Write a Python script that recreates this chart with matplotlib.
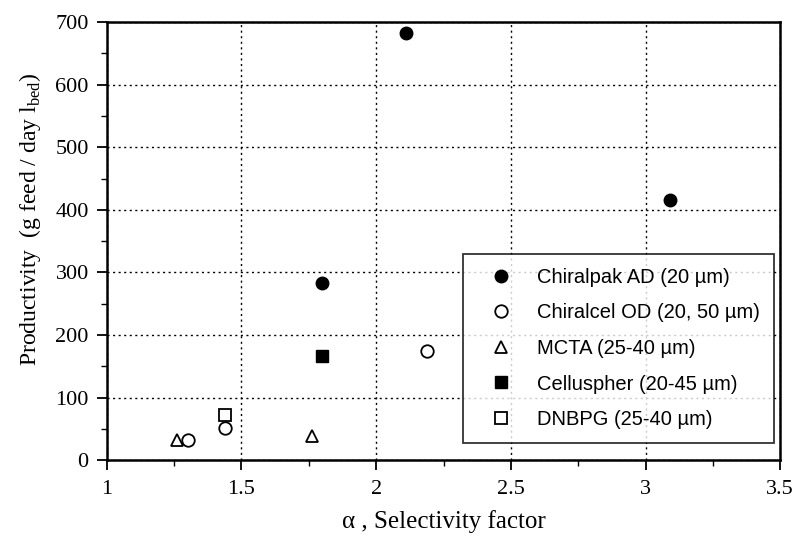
import matplotlib
matplotlib.use('Agg')
import matplotlib.pyplot as plt
from matplotlib.ticker import MultipleLocator

# data
ad_x = [2.11, 1.80, 3.09]
ad_y = [682, 283, 415]
od_x = [2.19, 1.30, 1.44]
od_y = [175, 33, 52]
mcta_x = [1.26, 1.76]
mcta_y = [32, 38]
cell_x = [1.80]
cell_y = [167]
dnbpg_x = [1.44]
dnbpg_y = [72]

labels = ['Chiralpak AD (20 µm)', 'Chiralcel OD (20, 50 µm)', 'MCTA (25-40 µm)',
          'Celluspher (20-45 µm)', 'DNBPG (25-40 µm)']

serif = 'Liberation Serif'
sans = 'Liberation Sans'

fig = plt.figure(figsize=(7.97, 5.37), dpi=100)
ax = fig.add_axes([0.134, 0.143, 0.845, 0.816])

ax.plot(ad_x, ad_y, 'o', ms=9, mfc='black', mec='black', label=labels[0])
ax.plot(od_x, od_y, 'o', ms=9, mfc='white', mec='black', mew=1.3, label=labels[1])
ax.plot(mcta_x, mcta_y, '^', ms=8, mfc='white', mec='black', mew=1.3, label=labels[2])
ax.plot(cell_x, cell_y, 's', ms=8, mfc='black', mec='black', label=labels[3])
ax.plot(dnbpg_x, dnbpg_y, 's', ms=8, mfc='white', mec='black', mew=1.3, label=labels[4])

ax.set_xlim(1, 3.5)
ax.set_ylim(0, 700)
ax.xaxis.set_major_locator(MultipleLocator(0.5))
ax.xaxis.set_minor_locator(MultipleLocator(0.25))
ax.yaxis.set_major_locator(MultipleLocator(100))
ax.yaxis.set_minor_locator(MultipleLocator(50))
ax.set_xticks([1, 1.5, 2, 2.5, 3, 3.5])
ax.set_xticklabels(['1', '1.5', '2', '2.5', '3', '3.5'])

ax.grid(True, which='major', linestyle=(0, (1.5, 2.5)), color='black', linewidth=1.0)
ax.set_axisbelow(True)
ax.tick_params(which='major', direction='out', length=7, width=1.3, labelsize=16)
ax.tick_params(axis='x', which='major', pad=7)
ax.tick_params(axis='y', which='major', pad=6)
ax.tick_params(which='minor', direction='out', length=4, width=1.0)
for lab in ax.get_xticklabels() + ax.get_yticklabels():
    lab.set_fontfamily(serif)
for s in ax.spines.values():
    s.set_linewidth(1.8)

ax.set_xlabel('α , Selectivity factor', fontsize=18, family=serif, labelpad=8)
ax.set_ylabel(r'Productivity  (g feed / day l$_{\mathregular{bed}}$)', fontsize=17,
              family=serif)
ax.yaxis.set_label_coords(-0.095, 0.55)

leg = ax.legend(loc='lower right', bbox_to_anchor=(0.99, 0.039), frameon=True,
                fancybox=False, edgecolor='black', prop={'family': sans, 'size': 14.5},
                handletextpad=0.55, borderpad=0.7, labelspacing=0.82, handlelength=2.4,
                borderaxespad=0)
leg.get_frame().set_linewidth(1.3)

plt.savefig('out.png', dpi=100)
